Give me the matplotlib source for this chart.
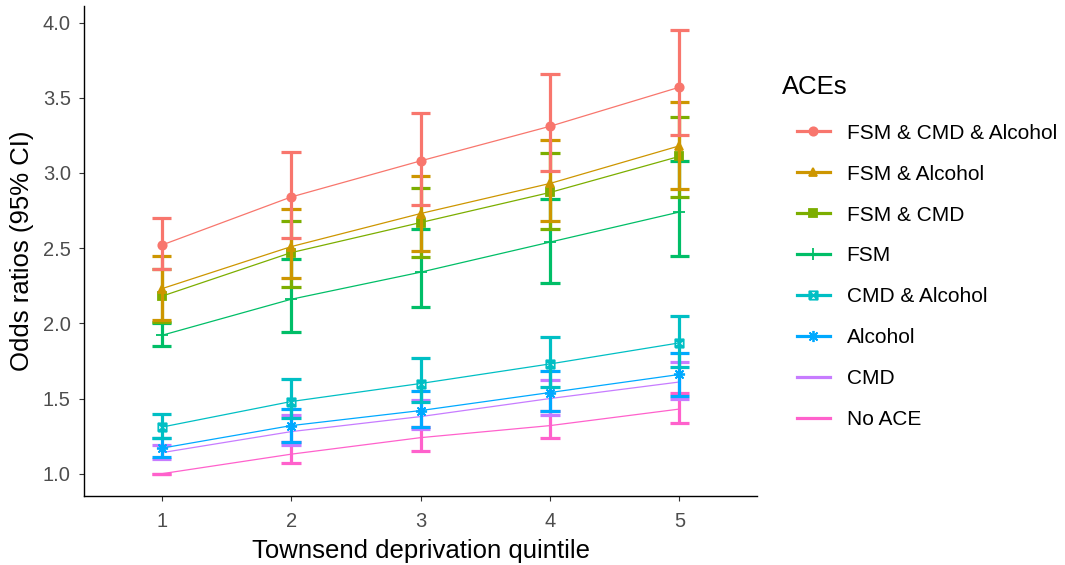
import numpy as np
import matplotlib
matplotlib.use("Agg")
import matplotlib.pyplot as plt
from matplotlib.path import Path
from matplotlib.lines import Line2D

plt.rcParams['font.family'] = ['Liberation Sans', 'DejaVu Sans']

quintile = [1, 2, 3, 4, 5]
groups = ["FSM & CMD & Alcohol", "FSM & Alcohol", "FSM & CMD", "FSM",
          "CMD & Alcohol", "Alcohol", "CMD", "No ACE"]

# odds ratio, lower CI, upper CI for each group
or_fca = [2.52, 2.84, 3.08, 3.31, 3.57]
lo_fca = [2.36, 2.57, 2.79, 3.01, 3.25]
hi_fca = [2.70, 3.14, 3.40, 3.66, 3.95]

or_fa = [2.23, 2.51, 2.73, 2.93, 3.18]
lo_fa = [2.02, 2.30, 2.48, 2.68, 2.89]
hi_fa = [2.45, 2.76, 2.98, 3.22, 3.47]

or_fc = [2.18, 2.47, 2.67, 2.87, 3.11]
lo_fc = [2.01, 2.24, 2.44, 2.63, 2.84]
hi_fc = [2.36, 2.68, 2.90, 3.13, 3.37]

or_f = [1.92, 2.16, 2.34, 2.54, 2.74]
lo_f = [1.85, 1.94, 2.11, 2.27, 2.45]
hi_f = [2.00, 2.43, 2.63, 2.83, 3.08]

or_ca = [1.31, 1.48, 1.60, 1.73, 1.87]
lo_ca = [1.24, 1.37, 1.48, 1.58, 1.71]
hi_ca = [1.40, 1.63, 1.77, 1.91, 2.05]

or_a = [1.17, 1.32, 1.42, 1.54, 1.66]
lo_a = [1.11, 1.21, 1.31, 1.42, 1.52]
hi_a = [1.24, 1.43, 1.55, 1.68, 1.80]

or_c = [1.14, 1.28, 1.38, 1.50, 1.61]
lo_c = [1.10, 1.19, 1.30, 1.39, 1.50]
hi_c = [1.19, 1.39, 1.49, 1.62, 1.74]

or_n = [1.00, 1.13, 1.24, 1.32, 1.43]
lo_n = [1.00, 1.07, 1.15, 1.24, 1.34]
hi_n = [1.00, 1.21, 1.31, 1.42, 1.54]

odds = [or_fca, or_fa, or_fc, or_f, or_ca, or_a, or_c, or_n]
lows = [lo_fca, lo_fa, lo_fc, lo_f, lo_ca, lo_a, lo_c, lo_n]
highs = [hi_fca, hi_fa, hi_fc, hi_f, hi_ca, hi_a, hi_c, hi_n]

colors = ['#F8766D', '#CD9600', '#7CAE00', '#00BE67',
          '#00BFC4', '#00A9FF', '#C77CFF', '#FF61CC']

# square with a cross (ggplot shape 7)
sq_x = Path([(-1, -1), (1, -1), (1, 1), (-1, 1), (-1, -1), (-1, -1), (1, 1), (-1, 1), (1, -1)],
            [Path.MOVETO, Path.LINETO, Path.LINETO, Path.LINETO, Path.LINETO,
             Path.MOVETO, Path.LINETO, Path.MOVETO, Path.LINETO])
markers = ['o', '^', 's', '+', sq_x, (8, 2, 0), None, None]
msizes = [6, 6, 5.5, 8, 6, 8, 0, 0]

fig = plt.figure(figsize=(10.65, 5.65), dpi=100)
ax = fig.add_axes([84 / 1065, 1 - 496 / 565, (757 - 84) / 1065, (496 - 6) / 565])

half = 0.075
x = np.array(quintile)
n = len(groups)
# last group drawn first so the first one sits on top
for k in reversed(range(n)):
    z = 2 + (n - k) * 3
    c = colors[k]
    ax.vlines(x, lows[k], highs[k], color=c, lw=2.3, zorder=z)
    ax.hlines(lows[k], x - half, x + half, color=c, lw=2.3, zorder=z)
    ax.hlines(highs[k], x - half, x + half, color=c, lw=2.3, zorder=z)
    ax.plot(x, odds[k], color=c, lw=0.9, zorder=z + 1)
    if markers[k] is not None:
        fc = 'none' if k == 4 else c
        ax.plot(x, odds[k], ls='none', marker=markers[k], ms=msizes[k], color=c,
                mfc=fc, mew=1.3, zorder=z + 2)

ax.set_xlim(0.4, 5.6)
ax.set_ylim(0.852, 4.11)
ax.set_xticks(quintile)
ax.set_yticks([1.0, 1.5, 2.0, 2.5, 3.0, 3.5, 4.0])
ax.set_yticklabels(['1.0', '1.5', '2.0', '2.5', '3.0', '3.5', '4.0'])
for s in ['top', 'right']:
    ax.spines[s].set_visible(False)
for s in ['left', 'bottom']:
    ax.spines[s].set_linewidth(1.0)
    ax.spines[s].set_color('black')
ax.tick_params(length=3.5, width=0.8, color='#333333', labelcolor='#4D4D4D',
               labelsize=14.5)
ax.tick_params(axis='x', pad=8)
ax.tick_params(axis='y', pad=6)

ax.set_xlabel('Townsend deprivation quintile', fontsize=18.5, color='black', labelpad=6)
ax.set_ylabel('Odds ratios (95% CI)', fontsize=18.5, color='black', labelpad=6)

handles = []
for k in range(n):
    fc = 'none' if k == 4 else colors[k]
    h = Line2D([], [], color=colors[k], lw=2.3, marker=markers[k],
               ms=msizes[k], mfc=fc, mew=1.3)
    handles.append(h)

# legend title sits a bit left of the keys, as in ggplot
fig.text(782 / 1065, 1 - 87 / 565, 'ACEs', fontsize=18.5, ha='left', va='center')
leg = fig.legend(handles, groups, loc='upper left', bbox_to_anchor=(778 / 1065, 1 - 105 / 565),
                 frameon=False, fontsize=15,
                 handlelength=1.6, handletextpad=0.8, labelspacing=1.05)

plt.savefig('out.png', dpi=100)
